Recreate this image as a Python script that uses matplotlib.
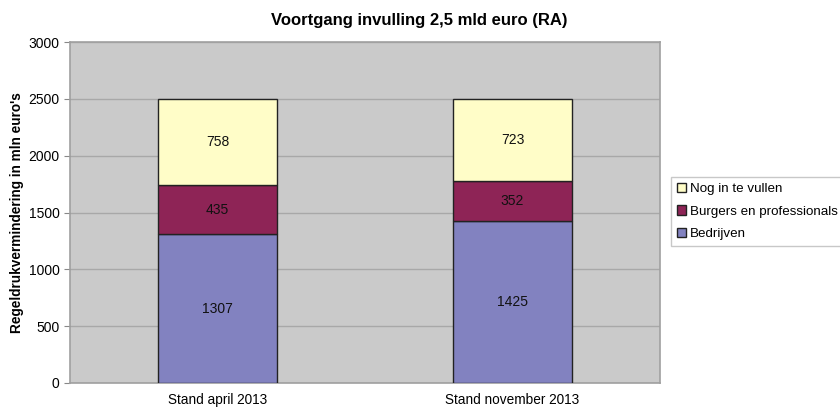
import matplotlib

matplotlib.use("Agg")
import matplotlib.pyplot as plt
import numpy as np

CATS = ["Stand april 2013", "Stand november 2013"]
BEDRIJVEN = [1307, 1425]
BURGERS = [435, 352]
NOG = [758, 723]
SERIES = [("Bedrijven", BEDRIJVEN, "#8282C0"),
          ("Burgers en professionals", BURGERS, "#8E2456"),
          ("Nog in te vullen", NOG, "#FFFDC8")]

plt.rcParams["font.family"] = ["Liberation Sans", "DejaVu Sans"]

fig = plt.figure(figsize=(8.4, 4.08), dpi=100)
ax = fig.add_axes([70 / 840, 1 - 383 / 408, 590 / 840, 341 / 408])
ax.set_facecolor("#CACACA")

x = np.arange(len(CATS))
bottom = np.zeros(len(CATS))
handles = []
for name, vals, col in SERIES:
    b = ax.bar(x, vals, 0.405, bottom=bottom, color=col, edgecolor="#222222", lw=1.0,
               label=name, zorder=3)
    handles.append(b)
    for xi, v, b0 in zip(x, vals, bottom):
        ax.text(xi, b0 + v / 2, str(v), ha="center", va="center", fontsize=10, color="#111111", zorder=4)
    bottom = bottom + np.array(vals)

ax.set_xlim(-0.5, 1.5)
ax.set_ylim(0, 3000)
ax.set_yticks(range(0, 3001, 500))
ax.set_xticks(x)
ax.set_xticklabels(CATS, fontsize=9.8)
ax.tick_params(axis="y", labelsize=10, length=4, color="#888888")
ax.tick_params(axis="x", length=0, pad=7)
ax.yaxis.grid(True, color="#A8A8A8", lw=1.0, zorder=1)
for s in ax.spines.values():
    s.set_color("#A0A0A0")
    s.set_linewidth(1.2)
ax.set_ylabel("Regeldrukvermindering in mln euro's", fontsize=9.8, fontweight="bold", labelpad=3)
fig.text(419 / 840, 1 - 20 / 408, "Voortgang invulling 2,5 mld euro (RA)", ha="center", va="center",
         fontsize=12, fontweight="bold")

leg = fig.legend(handles[::-1], [s[0] for s in SERIES][::-1], loc="upper left",
                 bbox_to_anchor=(671 / 840, 1 - 177 / 408), fontsize=9.6, frameon=True,
                 fancybox=False, edgecolor="#BBBBBB", handlelength=0.7, handleheight=0.7,
                 handletextpad=0.3, borderpad=0.45, labelspacing=0.75, borderaxespad=0)

fig.savefig("out.png", dpi=100)
